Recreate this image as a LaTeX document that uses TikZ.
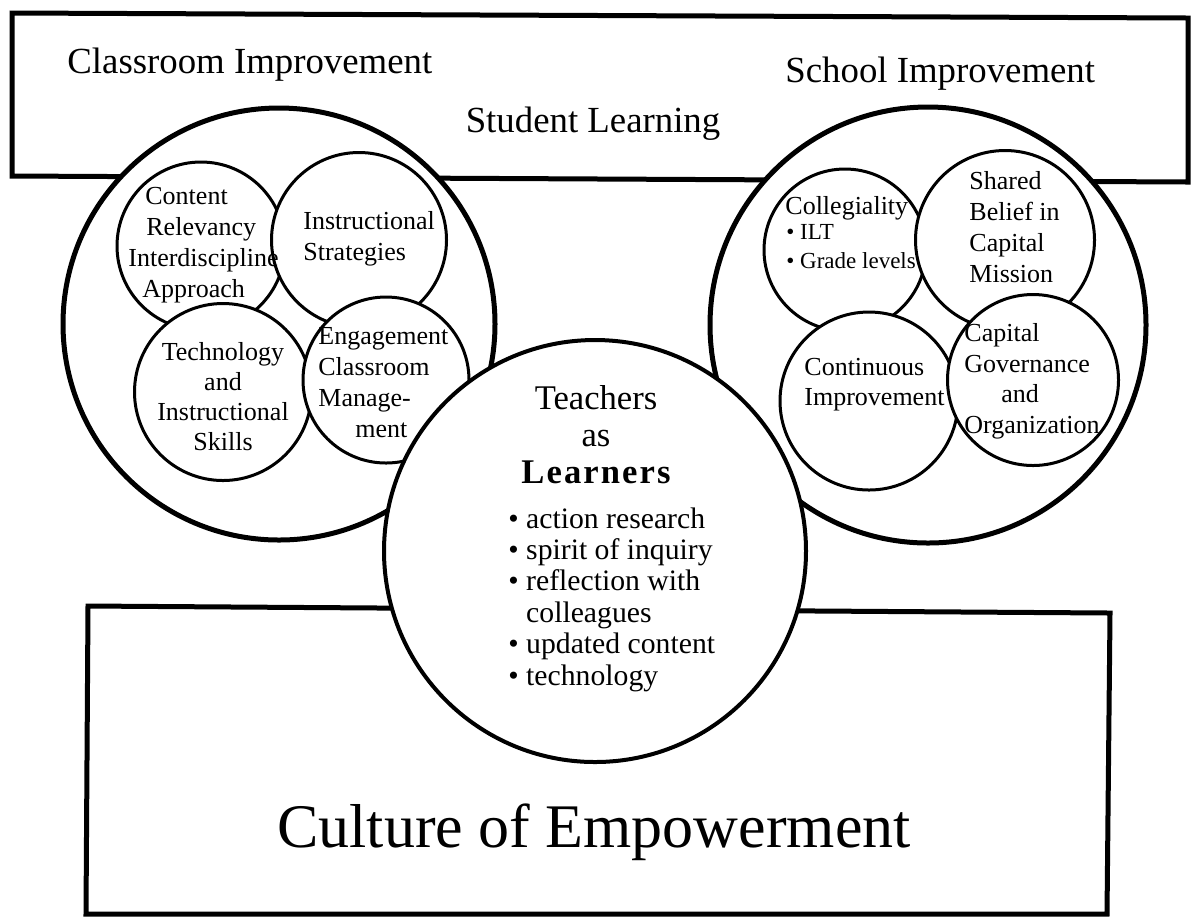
\documentclass[tikz,border=0pt]{standalone}
\usepackage{fontspec}
\setmainfont{Liberation Serif}

\begin{document}
\begin{tikzpicture}[x=0.5pt,y=-0.5pt,
		every node/.append style={inner sep=0pt},
		frame/.style={line width=2.5pt, line join=miter},
		bigc/.style={circle, draw, fill=white, line width=2.5pt, minimum size=#1},
		midc/.style={circle, draw, fill=white, line width=2pt, minimum size=#1},
		smallc/.style={circle, draw, fill=white, line width=1.5pt, minimum size=#1},
		head/.style={font=\fontsize{18.4}{22}\selectfont},
		ctext/.style={font=\fontsize{13}{15.4}\selectfont, align=left, anchor=base west}]
		\useasboundingbox (0,0) rectangle (1192,918);
		% frames
		\draw [frame] (12,13) -- (1188,18) -- (1188,182) -- (12,176) -- cycle;
		\draw [frame] (88,606) -- (1110,613) -- (1107,914) -- (86,914) -- cycle;
		% big circles
		\node [bigc=216pt] (classroom) at (279,324) {};
		\node [bigc=218pt] (school) at (928,325) {};
		% classroom circles
		\node [smallc=84pt] (content) at (201,246) {};
		\node [smallc=87.5pt] (instr) at (359,240) {};
		\node [smallc=88.5pt] (techn) at (223,392) {};
		\node [smallc=83pt] (engage) at (386,380) {};
		% school circles
		\node [smallc=81pt] (colleg) at (845,250) {};
		\node [smallc=89.5pt] (belief) at (1005,240) {};
		\node [smallc=89pt] (contin) at (869,401) {};
		\node [smallc=85.5pt] (govern) at (1033,380) {};
		% teachers
		\node [midc=211pt] (teachers) at (595,551) {};
		% labels
		\node [head, anchor=base west] (classlbl) at (67,73) {Classroom Improvement};
		\node [head, anchor=base west] (schoollbl) at (785,82) {School Improvement};
		\node [head, anchor=base] (studentlbl) at (593,132) {Student Learning};
		\node [ctext] (contentlbl) at (128,297) {\hspace*{8.5pt}Content\\\hspace*{9pt}Relevancy\\Interdiscipline\\\hspace*{7pt}Approach};
		\node [ctext] (instrlbl) at (303,260) {Instructional\\Strategies};
		\node [ctext, align=center, anchor=base, font=\fontsize{13}{15}\selectfont] (technlbl) at (223,450) {Technology\\and\\Instructional\\Skills};
		\node [ctext] (engagelbl) at (318,437) {Engagement\\Classroom\\Manage-\\\hspace*{18.5pt}ment};
		\node [ctext] (colleglbl) at (785,214) {Collegiality};
		\node [ctext, font=\fontsize{11.5}{14.5}\selectfont] (levelslbl) at (786,268) {• ILT\\• Grade levels};
		\node [ctext] (belieflbl) at (969,282) {Shared\\Belief in\\Capital\\Mission};
		\node [ctext, font=\fontsize{13}{15}\selectfont] (continlbl) at (804,405) {Continuous\\Improvement};
		\node [ctext, font=\fontsize{13}{15.2}\selectfont] (governlbl) at (964,433) {Capital\\Governance\\\hspace*{18.5pt}and\\Organization};
		\node [font=\fontsize{17.3}{18.5}\selectfont, align=center, anchor=base] (teachlbl) at (596,483) {Teachers\\as\\{\bfseries\addfontfeatures{LetterSpace=6}Learners}};
		\node [font=\fontsize{14.85}{15.7}\selectfont, align=left, anchor=base west] (inqlbl) at (508,685) {• action research\\• spirit of inquiry\\• reflection with\\\phantom{• }colleagues\\• updated content\\• technology};
		\node [font=\fontsize{31}{36}\selectfont, anchor=base] (culturelbl) at (594,847) {Culture of Empowerment};
\end{tikzpicture}
\end{document}
